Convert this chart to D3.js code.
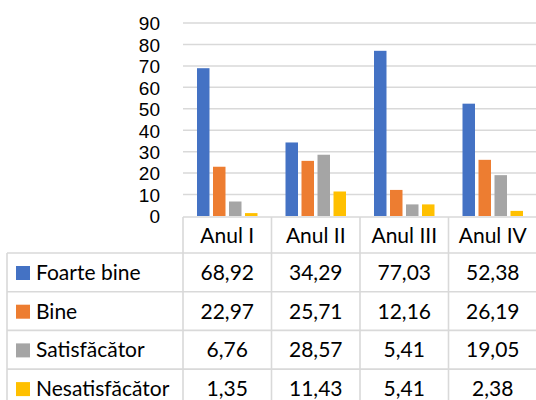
<!DOCTYPE html>
<html><head><meta charset="utf-8">
<script src="https://cdn.jsdelivr.net/npm/d3@7"></script>
<style>html,body{margin:0;padding:0;background:#fff;}svg{display:block;}</style>
</head><body>
<svg id="c" width="536" height="400"></svg>
<script>
const categories = ["Anul I", "Anul II", "Anul III", "Anul IV"];
const seriesNames = ["Foarte bine", "Bine", "Satisfăcător", "Nesatisfăcător"];
const foarteBine = [68.92, 34.29, 77.03, 52.38];
const bine = [22.97, 25.71, 12.16, 26.19];
const satisfacator = [6.76, 28.57, 5.41, 19.05];
const nesatisfacator = [1.35, 11.43, 5.41, 2.38];
const valueLabels = [
  ["68,92", "34,29", "77,03", "52,38"],
  ["22,97", "25,71", "12,16", "26,19"],
  ["6,76", "28,57", "5,41", "19,05"],
  ["1,35", "11,43", "5,41", "2,38"]
];
const yTicks = [0, 10, 20, 30, 40, 50, 60, 70, 80, 90];
const colors = ["#4472C4", "#ED7D31", "#A5A5A5", "#FFC000"];

const series = [foarteBine, bine, satisfacator, nesatisfacator];
const font = "Lato, 'Open Sans', sans-serif";
const fs = 21;
const grid = "#d9d9d9";

const svg = d3.select("#c");
const x0 = d3.scaleBand().domain(categories).range([183, 537]).paddingInner(0).paddingOuter(0);
const x1 = d3.scaleBand().domain(d3.range(4)).range([0, x0.bandwidth()]).paddingInner(0.219).paddingOuter(0.875);
const y = d3.scaleLinear().domain([0, 90]).range([216, 23]);

// gridlines
svg.append("g").selectAll("line").data(yTicks.filter(t => t > 0)).join("line")
  .attr("x1", 183).attr("x2", 537)
  .attr("y1", d => y(d)).attr("y2", d => y(d))
  .attr("stroke", grid).attr("stroke-width", 1.5);

// y axis labels
const yAxis = d3.axisLeft(y).tickValues(yTicks).tickSize(0).tickPadding(0);
const ya = svg.append("g").attr("transform", "translate(160,0)").call(yAxis);
ya.select(".domain").remove();
ya.selectAll("text").attr("font-family", "'Liberation Sans', Arial, sans-serif").attr("font-size", 19).attr("fill", "#000").attr("dy", "0.36em");

// bars
const groups = svg.append("g").selectAll("g").data(categories).join("g")
  .attr("transform", d => `translate(${x0(d)},0)`);
groups.selectAll("rect").data((c, ci) => series.map((s, si) => ({si, v: s[ci]}))).join("rect")
  .attr("x", d => x1(d.si)).attr("width", x1.bandwidth())
  .attr("y", d => y(d.v)).attr("height", d => y(0) - y(d.v))
  .attr("fill", d => colors[d.si]);

// table
const headerTop = 217, headerBottom = 253, rowH = 38.7;
const rowTops = d3.range(5).map(i => headerBottom + i * rowH);
const t = svg.append("g");
const line = (x1_, y1_, x2_, y2_) => t.append("line").attr("x1", x1_).attr("y1", y1_).attr("x2", x2_).attr("y2", y2_).attr("stroke", grid).attr("stroke-width", 1.6);
line(183, headerTop, 537, headerTop);
rowTops.forEach(r => line(7, r, 537, r));
line(7, headerBottom, 7, 410);
categories.forEach(c => line(x0(c), headerTop, x0(c), 410));
line(x0("Anul IV") + x0.bandwidth(), headerTop, x0("Anul IV") + x0.bandwidth(), 410);

// header text
t.selectAll("text.h").data(categories).join("text").attr("class", "h")
  .attr("x", d => x0(d) + x0.bandwidth() / 2).attr("y", 243)
  .attr("text-anchor", "middle").attr("font-family", font).attr("font-size", fs).attr("fill", "#000")
  .text(d => d);

// rows
seriesNames.forEach((name, i) => {
  const base = rowTops[i] + 27;
  t.append("rect").attr("x", 16).attr("y", base - 14).attr("width", 14).attr("height", 14).attr("fill", colors[i]);
  t.append("text").attr("x", 36).attr("y", base).attr("font-family", font).attr("font-size", fs).attr("fill", "#000").text(name);
  categories.forEach((c, ci) => {
    t.append("text").attr("x", x0(c) + x0.bandwidth() / 2).attr("y", base)
      .attr("text-anchor", "middle").attr("font-family", font).attr("font-size", fs).attr("fill", "#000")
      .text(valueLabels[i][ci]);
  });
});
</script>
</body></html>
